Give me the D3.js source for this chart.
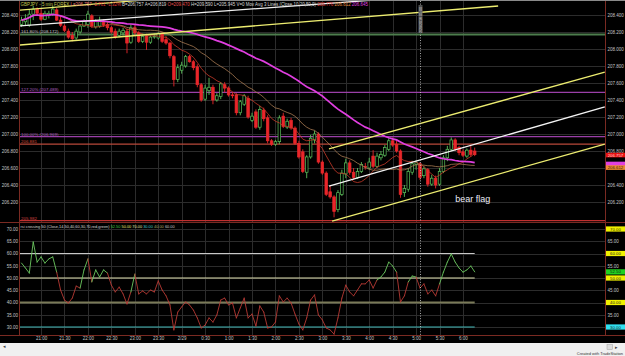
<!DOCTYPE html>
<html>
<head>
<meta charset="utf-8">
<script src="https://cdn.jsdelivr.net/npm/d3@7"></script>
<style>
html, body { margin: 0; padding: 0; background: #000; }
svg { display: block; font-family: "Liberation Sans", Arial, sans-serif; }
</style>
</head>
<body>
<svg id="chart" width="625" height="356"></svg>
<script>
// GBPJPY 5 min bars, 20:35 -> 6:15
var opens = [208.29,208.32,208.28,208.41,208.47,208.42,208.35,208.40,208.41,208.46,208.34,208.27,208.21,208.16,208.13,208.20,208.27,208.29,208.39,208.26,
  208.27,208.33,208.29,208.25,208.21,208.16,208.19,208.21,208.08,208.25,208.19,208.09,208.15,208.08,208.14,208.13,208.18,208.11,208.07,207.91,
  207.64,207.75,207.80,207.91,207.85,207.79,207.58,207.41,207.51,207.55,207.40,207.44,207.58,207.54,207.46,207.46,207.25,207.35,207.42,207.16,
  207.26,207.08,207.28,207.19,206.92,206.88,206.91,207.21,207.08,207.16,207.07,206.89,206.79,206.55,206.73,206.93,207.00,206.67,206.54,206.32,
  206.26,206.11,206.29,206.53,206.66,206.55,206.49,206.56,206.62,206.60,206.74,206.62,206.72,206.75,206.82,206.92,206.88,206.80,206.31,206.35,
  206.55,206.64,206.65,206.51,206.58,206.41,206.48,206.41,206.56,206.72,206.82,206.93,206.84,206.79,206.74,206.81,206.80];
var highs = [208.38,208.41,208.46,208.51,208.49,208.48,208.45,208.45,208.51,208.48,208.38,208.29,208.24,208.20,208.24,208.29,208.35,208.45,208.41,208.35,
  208.38,208.35,208.33,208.27,208.24,208.24,208.25,208.24,208.29,208.28,208.21,208.18,208.18,208.16,208.18,208.20,208.20,208.15,208.08,207.93,
  207.82,207.85,207.93,207.93,207.87,207.82,207.60,207.58,207.66,207.58,207.48,207.61,207.61,207.56,207.49,207.48,207.40,207.47,207.45,207.25,
  207.29,207.33,207.31,207.22,206.94,206.93,207.22,207.25,207.18,207.19,207.09,206.92,206.82,206.75,206.99,207.04,207.02,206.69,206.56,206.39,
  206.28,206.34,206.58,206.71,206.69,206.60,206.60,206.67,206.66,206.72,206.81,206.78,206.80,206.87,206.95,206.96,206.92,206.82,206.40,206.60,
  206.68,206.69,206.67,206.62,206.60,206.52,206.51,206.60,206.75,206.86,206.96,206.95,206.86,206.82,206.83,206.86,206.84];
var lows = [208.26,208.28,208.26,208.34,208.39,208.33,208.34,208.36,208.39,208.33,208.26,208.20,208.12,208.09,208.11,208.18,208.26,208.25,208.25,208.24,
  208.25,208.26,208.22,208.18,208.12,208.14,208.16,207.95,208.06,208.16,208.07,208.07,207.99,208.06,208.12,208.11,208.07,208.05,207.89,207.56,
  207.61,207.71,207.78,207.84,207.75,207.55,207.38,207.39,207.46,207.35,207.38,207.41,207.49,207.44,207.42,207.22,207.22,207.33,207.18,207.14,
  207.06,207.05,207.15,206.89,206.86,206.86,206.88,207.07,207.06,207.05,206.87,206.71,206.54,206.48,206.71,206.89,206.65,206.52,206.27,206.24,
  206.02,206.08,206.27,206.48,206.52,206.46,206.47,206.54,206.58,206.58,206.60,206.60,206.69,206.73,206.80,206.85,206.78,206.25,206.26,206.32,
  206.52,206.58,206.46,206.48,206.38,206.39,206.36,206.39,206.54,206.68,206.80,206.80,206.75,206.73,206.72,206.73,206.74];
var closes = [208.34,208.36,208.41,208.47,208.42,208.35,208.42,208.42,208.47,208.34,208.28,208.22,208.14,208.12,208.21,208.27,208.33,208.41,208.27,208.33,
  208.33,208.28,208.25,208.20,208.14,208.21,208.22,208.07,208.25,208.19,208.09,208.15,208.08,208.14,208.15,208.18,208.09,208.07,207.92,207.64,
  207.78,207.81,207.91,207.85,207.78,207.58,207.40,207.54,207.55,207.40,207.45,207.59,207.54,207.46,207.45,207.25,207.38,207.45,207.20,207.21,
  207.08,207.29,207.18,206.92,206.88,206.91,207.19,207.09,207.15,207.07,206.89,206.73,206.56,206.73,206.95,207.00,206.67,206.54,206.29,206.26,
  206.09,206.31,206.54,206.66,206.55,206.49,206.56,206.64,206.61,206.67,206.62,206.74,206.76,206.84,206.92,206.87,206.80,206.29,206.36,206.56,
  206.65,206.66,206.49,206.59,206.41,206.48,206.40,206.56,206.72,206.82,206.93,206.82,206.78,206.75,206.81,206.76,206.757];
// rsi(14), one value per bar
var rsiValues = [56.1,54.1,52.0,64.7,56.5,58.6,56.1,57.8,58.6,52.4,45.1,41.0,39.8,41.8,46.7,45.9,53.3,57.8,48.4,53.3,
  50.4,53.3,52.0,47.1,44.3,46.3,43.5,39.4,44.3,51.6,43.5,44.7,43.5,45.1,44.3,48.8,45.1,42.7,39.0,28.8,
  36.1,38.2,40.2,39.0,36.9,33.7,29.6,30.8,33.7,32.0,34.9,41.0,41.8,39.0,39.8,33.7,37.8,41.8,33.7,35.3,
  30.4,38.6,36.1,29.6,30.0,32.0,42.7,40.2,41.8,39.8,35.3,31.2,28.8,33.7,41.0,43.1,34.9,32.9,29.6,28.8,
  27.1,33.7,41.8,47.1,44.3,42.7,45.1,47.6,47.6,49.2,45.9,49.2,50.4,52.4,56.5,54.9,52.4,40.2,42.7,48.4,
  50.8,50.4,45.9,47.6,43.5,45.1,42.7,47.6,52.4,56.5,59.8,56.5,54.1,52.4,53.3,54.9,52.5];

var timeLabels = ["21:00","21:30","22:00","22:30","23:00","23:30","2/29","0:30","1:00","1:30","2:00","2:30","3:00","3:30","4:00","4:30","5:00","5:30","6:00"];
var timeTickIndex = [5,11,17,23,29,35,41,47,53,59,65,71,77,83,89,95,101,107,113];
var priceTicks = [206.2,206.4,206.6,206.8,207.0,207.2,207.4,207.6,207.8,208.0,208.2,208.4];
var priceTicksRight = [206.2,206.4,206.8,207.0,207.2,207.4,207.6,207.8,208.0,208.2,208.4];
var rsiTicks = [30,35,40,45,50,55,60,65,70];
var rsiTicksRight = [35,45,55,65];

// level lines: [price, label, line colour, label colour]
var levelLines = [
  [208.172, "161.80% (208.172)", "#4d7d4d", "#c8c8c8"],
  [207.489, "127.20% (207.489)", "#9a3fa8", "#b060c0"],
  [206.969, "100.00% (206.969)", "#9a3fa8", "#b060c0"],
  [206.881, "206.881", "#b8483a", "#d04a3a"],
  [205.982, "205.982", "#c03030", "#d04040"]
];
// trend lines: [[bar, price], [bar, price], colour]
var trendLines = [
  [[-1, 208.455], [40, 208.609], "#ecec70"],
  [[-1, 208.270], [90, 208.575], "#f0f0f0"],
  [[-1, 208.045], [122, 208.506], "#ecec70"],
  [[78.7, 206.824], [149.3, 207.729], "#ecec70"],
  [[78.7, 206.388], [149.3, 207.318], "#f4f4f4"],
  [[79.5, 205.976], [149.3, 206.882], "#ecec70"]
];
var markerIndex = 102;
var maLengths = [10, 20, 50];
var maColors = ["#c83a2a", "#a87a52", "#e03ee0"];
var maLast = [206.776, 206.612, 206.645];
var lastPrice = 206.757;

var headerParts = [
  ["GBPJPY - 5 min  FOREX", "#c4c850"], ["L=206.757", "#e87a7a"], ["-2.761", "#e83a3a"], ["-1.32%", "#e83a3a"],
  ["B=206.757", "#d8d8d8"], ["A=206.819", "#d8d8d8"], ["O=209.470", "#e85050"], ["H=209.590", "#d8d8d8"],
  ["L=205.945", "#d8d8d8"], ["V=0", "#d8d8d8"], ["Mov Avg 3 Lines (Close,10,20,50,0)", "#d8d8d8"],
  ["206.776", "#e83a3a"], ["206.612", "#e89040"], ["206.645", "#e040e0"]
];
var rsiHeaderParts = [
  ["rsi crossing 50 (Close,14,50,40,60,30,70,red,green)", "#d8d8d8"], ["52.50", "#40c840"], ["50.00", "#e0e070"],
  ["70.00", "#e0e0a0"], ["30.00", "#40c8c8"], ["40.00", "#a8a860"], ["60.00", "#c8c8c8"]
];
// rsi levels: [value, colour, width, box colour]
var rsiLevels = [[60, "#c8c8c8", 1, "#f0f000"], [50, "#e0e0b0", 1, "#f0f000"], [40, "#7a7a58", 2, "#f0f000"], [30, "#40b8b8", 1, "#30e0f0"]];
var rsiLast = 52.5;

var svg = d3.select("#chart");
var W = 625, H = 356;
var left = 20, right = 605, priceTop = 1, priceBottom = 222, rsiTop = 224, rsiBottom = 335;
var n = closes.length;

var x = d3.scaleLinear().domain([0, 116]).range([21.5, 474.7]);
var y = d3.scaleLinear().domain([206, 208]).range([219, 49]);
var yr = d3.scaleLinear().domain([30, 70]).range([327, 229]);

svg.append("rect").attr("width", W).attr("height", H).attr("fill", "#000");

var defs = svg.append("defs");
defs.append("clipPath").attr("id", "clipP").append("rect")
  .attr("x", left).attr("y", priceTop).attr("width", right - left).attr("height", priceBottom - priceTop);
defs.append("clipPath").attr("id", "clipR").append("rect")
  .attr("x", left).attr("y", rsiTop).attr("width", right - left).attr("height", rsiBottom - rsiTop);

// grids
var grid = svg.append("g").attr("stroke", "#2c2c2c").attr("stroke-width", 1);
timeTickIndex.forEach(function(d) {
  var xx = Math.round(x(d)) + 0.5;
  grid.append("line").attr("x1", xx).attr("x2", xx).attr("y1", priceTop).attr("y2", priceBottom);
  grid.append("line").attr("x1", xx).attr("x2", xx).attr("y1", rsiTop).attr("y2", rsiBottom);
});
priceTicks.forEach(function(d) {
  var yy = Math.round(y(d)) + 0.5;
  grid.append("line").attr("x1", left).attr("x2", right).attr("y1", yy).attr("y2", yy);
});
rsiTicks.forEach(function(d) {
  var yy = Math.round(yr(d)) + 0.5;
  grid.append("line").attr("x1", left).attr("x2", right).attr("y1", yy).attr("y2", yy);
});

// price panel
var pg = svg.append("g").attr("clip-path", "url(#clipP)");

levelLines.forEach(function(d) {
  var yy = y(d[0]);
  pg.append("line").attr("x1", left).attr("x2", right).attr("y1", yy).attr("y2", yy)
    .attr("stroke", d[2]).attr("stroke-width", d[0] === 208.172 ? 2 : 1.2);
  pg.append("text").attr("x", left + 1).attr("y", yy - 1).attr("font-size", 4.4).attr("fill", d[3]).text(d[1]);
});

// candles: up = hollow green, down = filled red
var candle = pg.append("g").selectAll("g").data(closes).enter().append("g");
candle.append("line")
  .attr("x1", function(d, i) { return x(i); }).attr("x2", function(d, i) { return x(i); })
  .attr("y1", function(d, i) { return y(highs[i]); }).attr("y2", function(d, i) { return y(lows[i]); })
  .attr("stroke", function(d, i) { return d >= opens[i] ? "#5cc05c" : "#e8262a"; })
  .attr("stroke-width", 0.9);
candle.append("rect")
  .attr("x", function(d, i) { return x(i) - 1.3; })
  .attr("width", 2.6)
  .attr("y", function(d, i) { return y(Math.max(d, opens[i])); })
  .attr("height", function(d, i) { return Math.max(0.8, Math.abs(y(d) - y(opens[i]))); })
  .attr("fill", function(d, i) { return d >= opens[i] ? "#000" : "#e8262a"; })
  .attr("stroke", function(d, i) { return d >= opens[i] ? "#5cc05c" : "#e8262a"; })
  .attr("stroke-width", 0.7);

// moving averages
function sma(arr, len) {
  return arr.map(function(d, i) { return d3.mean(arr.slice(Math.max(0, i - len + 1), i + 1)); });
}
var maLine = d3.line().x(function(d, i) { return x(i); }).y(function(d) { return y(d); });
maLengths.forEach(function(len, k) {
  pg.append("path").datum(sma(closes, len)).attr("d", maLine).attr("fill", "none")
    .attr("stroke", maColors[k]).attr("stroke-width", k === 2 ? 1.7 : 0.8);
});

// trend lines
trendLines.forEach(function(d) {
  pg.append("line").attr("x1", x(d[0][0])).attr("y1", y(d[0][1])).attr("x2", x(d[1][0])).attr("y2", y(d[1][1]))
    .attr("stroke", d[2]).attr("stroke-width", 1.3);
});

pg.append("text").attr("x", x(111)).attr("y", y(206.2)).attr("font-size", 9).attr("fill", "#ececf8").text("bear flag");

// rsi panel
var rg = svg.append("g").attr("clip-path", "url(#clipR)");
rsiLevels.forEach(function(d) {
  rg.append("line").attr("x1", left).attr("x2", x(n - 1)).attr("y1", yr(d[0])).attr("y2", yr(d[0]))
    .attr("stroke", d[1]).attr("stroke-width", d[2]);
});
for (var i = 1; i < n; i++) {
  rg.append("line").attr("x1", x(i - 1)).attr("y1", yr(rsiValues[i - 1])).attr("x2", x(i)).attr("y2", yr(rsiValues[i]))
    .attr("stroke", rsiValues[i] >= 50 ? "#6cc860" : "#b83a34").attr("stroke-width", 0.9).attr("stroke-linecap", "round");
}

// 5:00 marker line
var mx = Math.round(x(markerIndex)) + 0.5;
svg.append("line").attr("x1", mx).attr("x2", mx).attr("y1", priceTop).attr("y2", rsiBottom)
  .attr("stroke", "#d0d0d0").attr("stroke-width", 0.8).attr("stroke-dasharray", "1,1.6");
svg.append("rect").attr("x", mx - 2).attr("y", 5).attr("width", 4).attr("height", 28).attr("fill", "#505050");
svg.append("text").attr("transform", "translate(" + (mx + 1.3) + ",33) rotate(-90)")
  .attr("font-size", 3.6).attr("fill", "#d8d8d8").text("2/29/2016 05:00");

// panel borders
var border = svg.append("g").attr("stroke", "#7a2a22").attr("stroke-width", 1);
border.append("line").attr("x1", left - 0.5).attr("x2", left - 0.5).attr("y1", 0).attr("y2", rsiBottom);
border.append("line").attr("x1", right + 0.5).attr("x2", right + 0.5).attr("y1", 0).attr("y2", rsiBottom + 1);
border.append("line").attr("x1", 0).attr("x2", W).attr("y1", priceBottom + 0.5).attr("y2", priceBottom + 0.5);
border.append("line").attr("x1", 0).attr("x2", W).attr("y1", rsiBottom + 0.5).attr("y2", rsiBottom + 0.5);
svg.append("line").attr("x1", 0).attr("x2", W).attr("y1", 0.5).attr("y2", 0.5).attr("stroke", "#8a8a8a");

// axes
function styleAxis(g) {
  g.select(".domain").remove();
  g.selectAll("text").attr("fill", "#c4c4c4").attr("font-size", 4.5).attr("font-family", "Liberation Sans, Arial, sans-serif");
}
svg.append("g").attr("transform", "translate(18,0)")
  .call(d3.axisLeft(y).tickValues(priceTicks).tickFormat(d3.format(".3f")).tickSize(0).tickPadding(0)).call(styleAxis);
svg.append("g").attr("transform", "translate(607.5,0)")
  .call(d3.axisRight(y).tickValues(priceTicksRight).tickFormat(d3.format(".3f")).tickSize(0).tickPadding(0)).call(styleAxis);
svg.append("g").attr("transform", "translate(18,0)")
  .call(d3.axisLeft(yr).tickValues(rsiTicks).tickFormat(d3.format(".2f")).tickSize(0).tickPadding(0)).call(styleAxis);
svg.append("g").attr("transform", "translate(607.5,0)")
  .call(d3.axisRight(yr).tickValues(rsiTicksRight).tickFormat(d3.format(".2f")).tickSize(0).tickPadding(0)).call(styleAxis);
svg.append("g").attr("transform", "translate(0,337)")
  .call(d3.axisBottom(x).tickValues(timeTickIndex).tickFormat(function(d, i) { return timeLabels[i]; }).tickSize(0).tickPadding(0))
  .call(styleAxis);

// right-axis value boxes
function valueBox(yy, label, bg, fg, hgt) {
  hgt = hgt || 5.2;
  svg.append("rect").attr("x", 606).attr("y", yy - hgt / 2).attr("width", 19).attr("height", hgt).attr("fill", bg);
  if (label) svg.append("text").attr("x", 615.5).attr("y", yy + 1.5).attr("text-anchor", "middle").attr("font-size", 4.3).attr("fill", fg).text(label);
}
valueBox(y(maLast[2]), "", "#e040e0", "", 5);
valueBox(y(maLast[1]) + 0.6, d3.format(".3f")(maLast[1]), "#f08a30", "#302010", 4.6);
valueBox(y(lastPrice) + 0.4, d3.format(".3f")(lastPrice), "#e81010", "#ffd0d0", 4.6);
valueBox(yr(70), "70.00", "#f0f000", "#303000");
rsiLevels.forEach(function(d) { valueBox(yr(d[0]), d3.format(".2f")(d[0]), d[3], "#202020"); });
valueBox(yr(rsiLast), d3.format(".2f")(rsiLast), "#20d020", "#102010");

// headers (narrow font: laid out then squeezed to the measured width)
function header(parts, x0, yy, width, size) {
  var g = svg.append("g");
  var t = g.append("text").attr("font-size", size).attr("y", 0).attr("x", 0);
  parts.forEach(function(p, k) {
    t.append("tspan").attr("fill", p[1]).text((k ? "  " : "") + p[0]);
  });
  var w = t.node().getComputedTextLength();
  g.attr("transform", "translate(" + x0 + "," + yy + ") scale(" + (width / w) + ",1)");
}
header(headerParts, 20.5, 5.8, 348, 4.6);
header(rsiHeaderParts, 20.5, 227.8, 154, 4.2);

// bottom strip
svg.append("rect").attr("x", 0).attr("y", 343).attr("width", W).attr("height", 13).attr("fill", "#f0f0f0");
svg.append("rect").attr("x", 607).attr("y", 344.5).attr("width", 5.5).attr("height", 5).attr("fill", "#dcdcdc").attr("stroke", "#a0a0a0").attr("stroke-width", 0.5);
svg.append("text").attr("x", 615).attr("y", 349).attr("font-size", 4.5).attr("fill", "#404040").text("\u25B8");
svg.append("text").attr("x", 3).attr("y", 348).attr("font-size", 4.5).attr("fill", "#404040").text("\u25C2");
svg.append("text").attr("x", 623).attr("y", 355).attr("text-anchor", "end").attr("font-size", 4).attr("fill", "#303030").text("Created with TradeStation");
</script>
</body>
</html>
